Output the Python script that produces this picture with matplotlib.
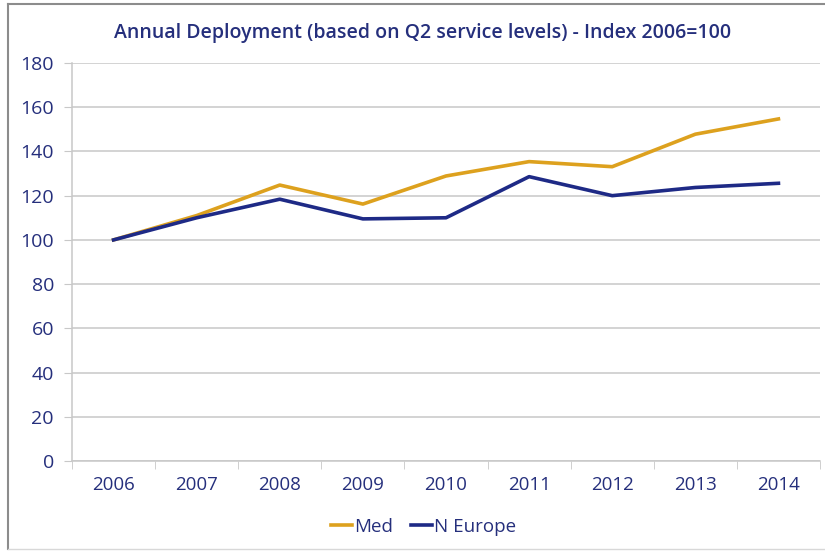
import matplotlib
matplotlib.use('Agg')
import matplotlib.pyplot as plt
from matplotlib.lines import Line2D

# Daten
years = ['2006', '2007', '2008', '2009', '2010', '2011', '2012', '2013', '2014']
med = [100, 111, 124.8, 116.2, 128.9, 135.4, 133.1, 147.8, 154.7]
n_europe = [100, 110, 118.4, 109.5, 110, 128.6, 120, 123.7, 125.6]
y_ticks = [0, 20, 40, 60, 80, 100, 120, 140, 160, 180]

text_col = '#252F7C'
grid_col = '#C8C8C8'
plt.rcParams['font.family'] = ['Open Sans', 'DejaVu Sans']

fig = plt.figure(figsize=(8.25, 5.51), dpi=100)
ax = fig.add_axes([72/825, 1-461/551, (820-72)/825, (461-63)/551])

x = list(range(len(years)))
ax.plot(x, med, color='#DDA11E', lw=2.6, label='Med', solid_joinstyle='round')
ax.plot(x, n_europe, color='#1E2A86', lw=2.6, label='N Europe', solid_joinstyle='round')

ax.set_xlim(-0.5, len(years) - 0.5)
ax.set_ylim(0, 180)
ax.set_yticks(y_ticks)
ax.set_yticklabels([str(v) for v in y_ticks])
ax.set_xticks(x)
ax.set_xticklabels(years)
ax.set_xticks([i + 0.5 for i in range(-1, len(years))], minor=True)

ax.grid(axis='y', color=grid_col, lw=1.1)
ax.set_axisbelow(True)
for s in ['top', 'right']:
    ax.spines[s].set_visible(False)
ax.spines['left'].set_color(grid_col)
ax.spines['bottom'].set_color(grid_col)
ax.spines['left'].set_linewidth(1.1)
ax.spines['bottom'].set_linewidth(1.1)

ax.tick_params(axis='y', which='major', length=6, color=grid_col, labelcolor=text_col,
               labelsize=14, pad=7)
ax.tick_params(axis='x', which='major', length=0, labelcolor=text_col, labelsize=13.5, pad=11)
ax.tick_params(axis='x', which='minor', length=6, color=grid_col)

ax.set_title('Annual Deployment (based on Q2 service levels) - Index 2006=100',
             color=text_col, fontsize=14, fontweight='semibold', pad=18, x=0.469)

leg = fig.legend(loc='center', bbox_to_anchor=(0.5 + 11/825, 1-527/551), ncol=2, frameon=False,
                 fontsize=13.5, handlelength=1.1, handletextpad=0.1, columnspacing=1.0)
for t in leg.get_texts():
    t.set_color(text_col)

# Rahmen um das Diagramm
fig.add_artist(Line2D([8/825, 1], [1-4/551, 1-4/551], color='#8C8C8C', lw=1.5))
fig.add_artist(Line2D([8/825, 8/825], [1-4/551, 1-549/551], color='#8C8C8C', lw=1.5))
fig.add_artist(Line2D([8/825, 1], [1-549/551, 1-549/551], color='#D8D8D8', lw=1))

fig.savefig('out.png', dpi=100)
